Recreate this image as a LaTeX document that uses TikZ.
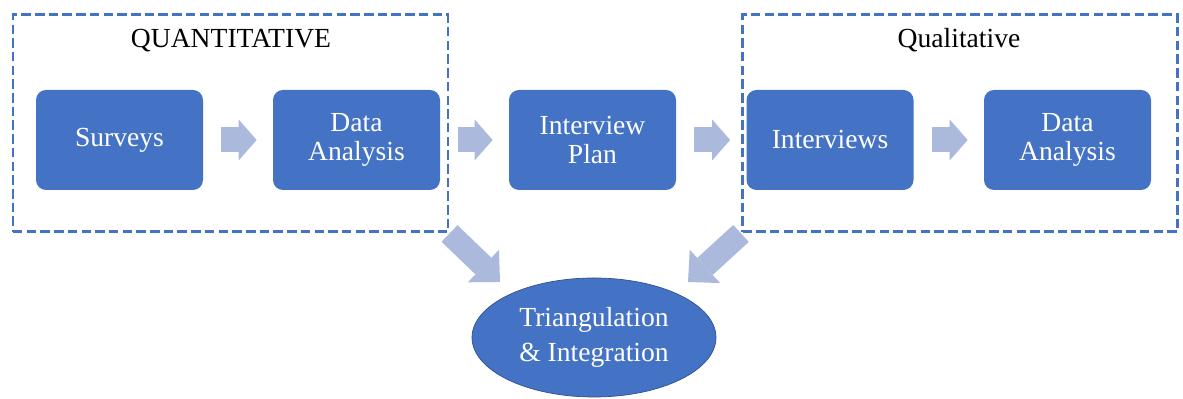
\documentclass[tikz,border=0pt]{standalone}
\usepackage{fontspec}
\setmainfont{Liberation Serif}
\usepackage{tikz}
\usetikzlibrary{arrows.meta,shapes.geometric,backgrounds}

\definecolor{boxblue}{HTML}{4472C4}
\definecolor{edgeblue}{HTML}{2F528F}
\definecolor{arrowblue}{HTML}{ABB9DC}

\tikzset{
    stepbox/.style={rectangle, rounded corners=0.2cm, fill=boxblue, text=white,
        minimum width=3.34cm, minimum height=2cm, inner sep=0pt, align=center,
        font=\fontsize{15.7}{17}\selectfont},
    groupbox/.style={rectangle, draw=boxblue, line width=1.7pt,
        dash pattern=on 5.4pt off 2.4pt, minimum width=8.7cm, minimum height=4.34cm},
    grouplabel/.style={anchor=base, inner sep=0pt, font=\fontsize{15.7}{17}\selectfont},
    flowarrow/.style={draw=arrowblue, line width=0.5cm,
        -{Triangle[length=0.36cm, width=0.82cm, line width=0pt]},
        shorten <=0.36cm, shorten >=0.32cm},
    diagarrow/.style={draw=arrowblue, line width=0.46cm,
        -{Triangle[length=0.46cm, width=0.9cm, line width=0pt]}},
}

\begin{document}
\begin{tikzpicture}

    %% Background
    \useasboundingbox (0,0) rectangle (23.66,7.98);

    % Groups
    \node[groupbox] (quant) at (4.61,5.51) {};
    \node[groupbox] (qual) at (19.20,5.51) {};

    \node[grouplabel] (quantlabel) at (4.62,7.02) {QUANTITATIVE};
    \node[grouplabel] (quallabel) at (19.18,7.02) {Qualitative};

    % Steps
    \node[stepbox] (surveys) at (2.39,5.18) {Surveys};
    \node[stepbox] (analysisA) at (7.13,5.18) {Data\\Analysis};
    \node[stepbox] (plan) at (11.85,5.18) {Interview\\Plan};
    \node[stepbox] (interviews) at (16.60,5.18) {Interviews};
    \node[stepbox] (analysisB) at (21.35,5.18) {Data\\Analysis};

    % Result
    \node[ellipse, draw=edgeblue, thin, fill=boxblue, text=white,
        minimum width=4.88cm, minimum height=2.38cm, inner sep=0pt, align=center,
        font=\fontsize{15.7}{20}\selectfont]
        (triang) at (11.88,1.23) {Triangulation\\\& Integration};

    \coordinate (ltip) at (10.00,2.34);
    \coordinate (rtip) at (13.76,2.34);

    % Arrows
    \draw[flowarrow] (surveys) -- (analysisA);
    \draw[flowarrow] (analysisA) -- (plan);
    \draw[flowarrow] (plan) -- (interviews);
    \draw[flowarrow] (interviews) -- (analysisB);

    \begin{scope}[on background layer]
    \draw[diagarrow] (quant.south east) -- (ltip);
    \draw[diagarrow] (qual.south west) -- (rtip);
    \end{scope}

\end{tikzpicture}
\end{document}
